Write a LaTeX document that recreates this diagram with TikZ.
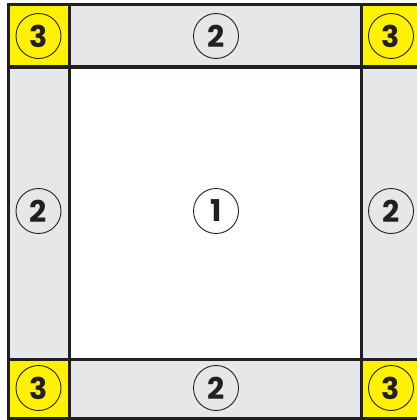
\documentclass[tikz,border=0pt]{standalone}
\usepackage{fontspec}
\setmainfont{Poppins}
\definecolor{ylw}{HTML}{FFF200}
\definecolor{gry}{HTML}{E6E7E8}
\definecolor{ink}{HTML}{231F20}
\tikzset{
  num/.style={circle, draw=ink, line width=0.9pt, minimum size=45pt, inner sep=0pt,
    text=ink, font=\fontsize{30}{30}\selectfont\bfseries},
  grid/.style={draw=ink, line width=3pt},
}
\begin{document}
\begin{tikzpicture}[x=1pt,y=-1pt]
\useasboundingbox (0,0) rectangle (417,420);
\clip (0,0) rectangle (417,420);
\fill[white] (0,0) rectangle (417,420);
% fills
\fill[ylw] (8,5) rectangle (69,67);
\fill[ylw] (361,5) rectangle (422,67);
\fill[ylw] (8,359) rectangle (69,418);
\fill[ylw] (361,359) rectangle (422,418);
\fill[gry] (69,5) rectangle (361,67);
\fill[gry] (69,359) rectangle (361,418);
\fill[gry] (8,67) rectangle (69,359);
\fill[gry] (361,67) rectangle (422,359);
% lines
\draw[grid] (8,5) rectangle (422,418);
\draw[grid] (69,5) -- (69,418);
\draw[grid] (361,5) -- (361,418);
\draw[grid] (8,67) -- (422,67);
\draw[grid] (8,359) -- (422,359);
% labels
\node[num] (tl) at (38.5,36) {3};
\node[num] (t)  at (216,36) {2};
\node[num] (tr) at (391,36) {3};
\node[num] (l)  at (38.5,211) {2};
\node[num] (c)  at (216,211) {1};
\node[num] (r)  at (391,211) {2};
\node[num] (bl) at (38.5,388) {3};
\node[num] (b)  at (216,388) {2};
\node[num] (br) at (391,388) {3};
\end{tikzpicture}
\end{document}
